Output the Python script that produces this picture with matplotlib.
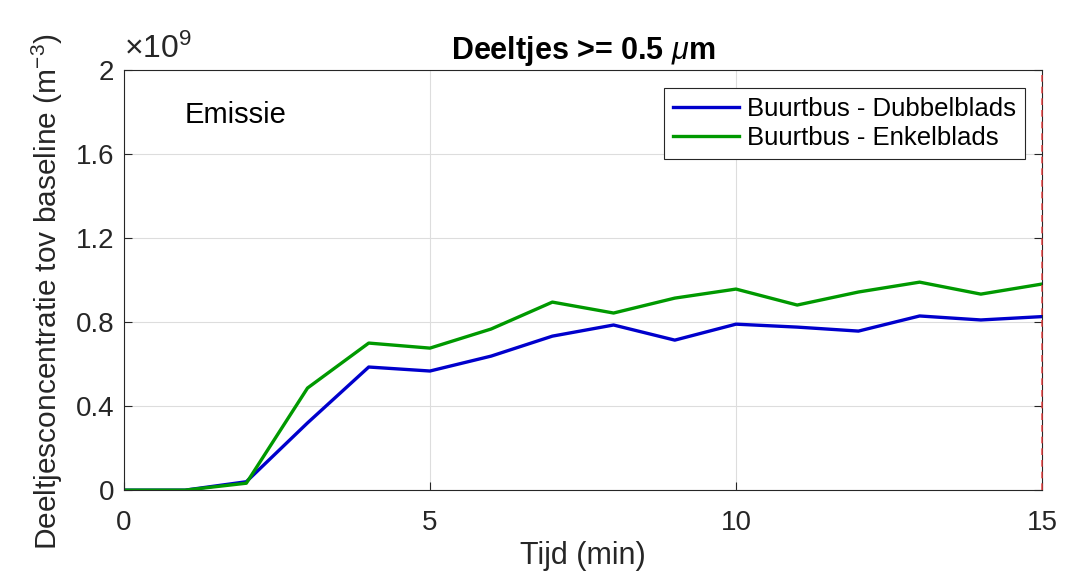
import numpy as np
import matplotlib.pyplot as plt

plt.rcParams['font.family'] = ['Liberation Sans', 'DejaVu Sans']
plt.rcParams['mathtext.fontset'] = 'custom'
plt.rcParams['mathtext.rm'] = 'Liberation Sans'
plt.rcParams['mathtext.it'] = 'Liberation Sans:italic'
plt.rcParams['mathtext.bf'] = 'Liberation Sans:bold'

# tijd in minuten
tijd = [0, 1, 2, 3, 4, 5, 6, 7, 8, 9, 10, 11, 12, 13, 14, 15]
# concentratie (x 1e9 m^-3)
dubbelblads = [0, 0, 0.04, 0.32, 0.586, 0.567, 0.638, 0.733, 0.786, 0.714,
               0.79, 0.776, 0.757, 0.829, 0.81, 0.826]
enkelblads = [0, 0, 0.033, 0.486, 0.70, 0.676, 0.767, 0.895, 0.843, 0.914,
              0.957, 0.881, 0.943, 0.990, 0.933, 0.981]
labels = ['Buurtbus - Dubbelblads', 'Buurtbus - Enkelblads']

fig = plt.figure(figsize=(10.68, 5.78), dpi=100)
ax = fig.add_axes([0.116, 0.152, 0.8597, 0.727])

ax.plot(tijd, dubbelblads, '-', color='#0000CC', linewidth=2.4, label=labels[0])
ax.plot(tijd, enkelblads, '-', color='#009900', linewidth=2.4, label=labels[1])
ax.axvline(15, color='#E83A3A', linestyle=(0, (4, 3)), linewidth=1.2, alpha=0.85,
           zorder=5, clip_on=False)

ax.set_xlim(0, 15)
ax.set_ylim(0, 2)
ax.set_xticks([0, 5, 10, 15])
ax.set_yticks([0, 0.4, 0.8, 1.2, 1.6, 2])
ax.set_yticklabels(['0', '0.4', '0.8', '1.2', '1.6', '2'])
ax.tick_params(direction='in', length=6, width=0.8, labelsize=20, colors='#262626',
               top=False, right=True)
ax.tick_params(axis='x', pad=14)
ax.tick_params(axis='y', pad=7)
ax.grid(True, color='#DDDDDD', linewidth=0.8)
ax.set_axisbelow(True)
for s in ax.spines.values():
    s.set_color('#262626')
    s.set_linewidth(0.8)

ax.set_xlabel('Tijd (min)', fontsize=22, color='#262626', labelpad=4)
ax.set_ylabel('Deeltjesconcentratie tov baseline (m$^{-3}$)', fontsize=21.5,
              color='#262626')
ax.yaxis.set_label_coords(-0.064, 0.472)
ax.set_title(r'Deeltjes >= 0.5 $\mu$m', fontsize=22, fontweight='bold', pad=8)
ax.text(0.0, 1.012, r'$\times10^9$', transform=ax.transAxes, fontsize=23,
        color='#262626', va='bottom', ha='left')
ax.text(0.066, 0.893, 'Emissie', transform=ax.transAxes, fontsize=21, va='center')

leg = ax.legend(loc='upper right', bbox_to_anchor=(0.9815, 0.957), fontsize=18.5,
                fancybox=False, edgecolor='#262626', framealpha=1,
                handlelength=2.6, handletextpad=0.3, borderpad=0.35,
                labelspacing=0.2, borderaxespad=0)
leg.get_frame().set_linewidth(0.8)

fig.savefig('out.png', dpi=100)
